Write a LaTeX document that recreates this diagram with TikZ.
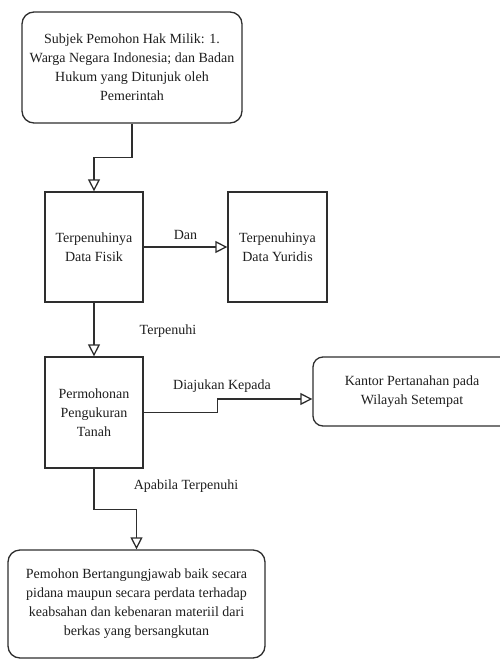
\documentclass[tikz,border=0pt]{standalone}
\usepackage{fontspec}
\setmainfont{Liberation Serif}
\usetikzlibrary{arrows.meta}
\definecolor{ln}{HTML}{2E2E2E}
\definecolor{tx}{HTML}{1E1E1E}
\tikzset{
  box/.style={draw=ln, line width=1.3pt, rectangle, align=center, text=tx,
    font=\fontsize{14}{19}\selectfont, inner sep=0pt},
  rbox/.style={box, rounded corners=12pt},
  conn/.style={draw=ln, line width=1.3pt, -{Triangle[open, length=12pt, width=12pt]}},
  lbl/.style={text=tx, font=\fontsize{14}{19}\selectfont, inner sep=0pt},
}
\begin{document}
\begin{tikzpicture}[x=1pt, y=-1pt]
\useasboundingbox (0,0) rectangle (500,659);
\clip (0,0) rectangle (500,659);
\node[rbox, minimum width=220pt, minimum height=111pt] (b1) at (132,67.5)
  {Subjek Pemohon Hak Milik: 1.\\Warga Negara Indonesia; dan Badan\\Hukum yang Ditunjuk oleh\\Pemerintah};
\node[box, minimum width=98pt, minimum height=110pt] (b2) at (94,247)
  {Terpenuhinya\\Data Fisik};
\node[box, minimum width=99pt, minimum height=110pt] (b3) at (277.5,247)
  {Terpenuhinya\\Data Yuridis};
\node[box, minimum width=98pt, minimum height=111pt] (b4) at (94,412.5)
  {Permohonan\\Pengukuran\\Tanah};
\node[rbox, rounded corners=10pt, minimum width=198pt, minimum height=69pt] (b5) at (412,391.5)
  {Kantor Pertanahan pada\\Wilayah Setempat};
\node[rbox, minimum width=257pt, minimum height=108pt] (b6) at (136.5,604)
  {Pemohon Bertangungjawab baik secara\\pidana maupun secara perdata terhadap\\keabsahan dan kebenaran materiil dari\\berkas yang bersangkutan};

\draw[conn] (b1.south) -- ++(0,34) -| (b2.north);
\draw[conn] (b2.east) -- (b3.west);
\node[lbl] (l1) at (185.5,235) {Dan};
\draw[conn] (b2.south) -- (b4.north);
\node[lbl] (l2) at (168,331) {Terpenuhi};
\draw[conn] (b4.east) -- ++(74,0) |- ([yshift=-7.5pt]b5.west);
\node[lbl] (l3) at (222,386) {Diajukan Kepada};
\draw[conn] (b4.south) -- ++(0,41) -| (b6.north);
\node[lbl] (l4) at (186,486) {Apabila Terpenuhi};
\end{tikzpicture}
\end{document}
